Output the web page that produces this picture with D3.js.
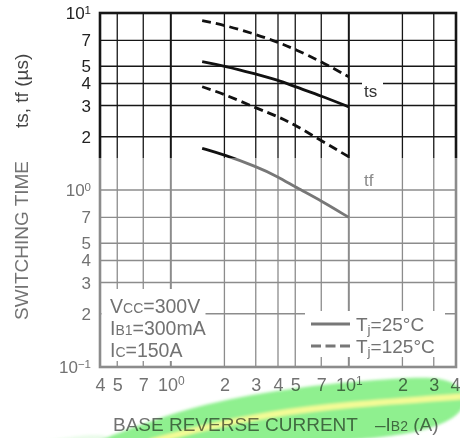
<!DOCTYPE html>
<html><head><meta charset="utf-8">
<script src="https://cdn.jsdelivr.net/npm/d3@7"></script>
<style>body{margin:0;background:#fff}svg{display:block}text{font-family:"Liberation Sans",Arial,sans-serif}</style>
</head><body><svg id="c" width="460" height="438"></svg>
<script>
// ---- data ----
const xTicks = [0.4, 0.5, 0.7, 1, 2, 3, 4, 5, 7, 10, 20, 30, 40];
const xTickLabels = ["4", "5", "7", "10^0", "2", "3", "4", "5", "7", "10^1", "2", "3", "4"];
const yTicks = [0.1, 0.2, 0.3, 0.4, 0.5, 0.7, 1, 2, 3, 4, 5, 7, 10];
const yTickLabels = ["10^−1", "2", "3", "4", "5", "7", "10^0", "2", "3", "4", "5", "7", "10^1"];
const ib2 = [1.5, 2, 3, 4, 5, 7, 10];
const ts25 = [5.31, 5.02, 4.52, 4.18, 3.83, 3.40, 2.95];
const ts125 = [9.05, 8.55, 7.58, 6.83, 6.24, 5.31, 4.36];
const tf25 = [1.72, 1.58, 1.36, 1.19, 1.04, 0.87, 0.70];
const tf125 = [3.83, 3.48, 2.91, 2.60, 2.33, 1.90, 1.54];

const svg = d3.select("#c");
const L = 100, R = 456, T = 13, B = 367, SPLIT = 158;
const x = d3.scaleLog().domain([0.4, 40]).range([L, R]);
const y = d3.scaleLog().domain([0.1, 10]).range([B, T]);

const DARK = "#161616", GRAYL = "#8c8c8c", GRAYT = "#727272";
const defs = svg.append("defs");
function tone(id, top, bot) {
  const g = defs.append("linearGradient").attr("id", id).attr("gradientUnits", "userSpaceOnUse")
    .attr("x1", 0).attr("y1", 0).attr("x2", 0).attr("y2", 438);
  const o = SPLIT / 438;
  g.append("stop").attr("offset", 0).attr("stop-color", top);
  g.append("stop").attr("offset", o).attr("stop-color", top);
  g.append("stop").attr("offset", o).attr("stop-color", bot);
  g.append("stop").attr("offset", 1).attr("stop-color", bot);
}
tone("gLine", DARK, GRAYL);
tone("gCurve", "#111", "#777");
const blur = defs.append("filter").attr("id", "soft").attr("x", "-10%").attr("y", "-50%").attr("width", "120%").attr("height", "200%");
blur.append("feGaussianBlur").attr("stdDeviation", 1.4);

// ---- grid ----
const grid = svg.append("g");
grid.selectAll("line.v").data(xTicks.slice(1, -1)).join("line")
  .attr("x1", d => x(d)).attr("x2", d => x(d)).attr("y1", T).attr("y2", B)
  .attr("stroke", "url(#gLine)").attr("stroke-width", d => (d === 1 || d === 10) ? 2 : 1.3);
grid.selectAll("line.h").data(yTicks.slice(1, -1)).join("line")
  .attr("x1", L).attr("x2", R).attr("y1", d => y(d)).attr("y2", d => y(d))
  .attr("stroke", d => y(d) < SPLIT ? DARK : GRAYL).attr("stroke-width", 1.4);

// ---- white label boxes ----
svg.append("rect").attr("x", 101.5).attr("y", 289).attr("width", 104).attr("height", 72).attr("fill", "#fff");
svg.append("rect").attr("x", 305).attr("y", 311).attr("width", 140).attr("height", 46).attr("fill", "#fff");
svg.append("rect").attr("x", 362).attr("y", 79).attr("width", 21).attr("height", 22).attr("fill", "#fff");

// ---- frame ----
svg.append("rect").attr("x", L).attr("y", T).attr("width", R - L).attr("height", B - T)
  .attr("fill", "none").attr("stroke", "url(#gLine)").attr("stroke-width", 2.6);

// ---- curves ----
const line = d3.line().x((d, i) => x(ib2[i])).y(d => y(d)).curve(d3.curveBasis);
const series = [
  { v: ts125, dash: "9,5" }, { v: ts25, dash: null },
  { v: tf125, dash: "9,5" }, { v: tf25, dash: null }
];
svg.append("g").selectAll("path").data(series).join("path")
  .attr("d", d => line(d.v)).attr("fill", "none").attr("stroke", "url(#gCurve)")
  .attr("stroke-width", 2.8).attr("stroke-dasharray", d => d.dash);

// ---- axes labels ----
function richText(t, s, supSize) {
  t.text(null);
  const parts = s.split("^");
  t.append("tspan").text(parts[0]);
  if (parts[1]) t.append("tspan").attr("dy", "-0.45em").attr("font-size", supSize).text(parts[1]);
}
const gx = svg.append("g").attr("transform", `translate(0,${B})`)
  .call(d3.axisBottom(x).tickValues(xTicks).tickSize(0).tickPadding(11).tickFormat((d, i) => xTickLabels[i]));
gx.select(".domain").remove();
gx.selectAll(".tick text").attr("font-size", 18).attr("fill", GRAYT).attr("font-family", null)
  .each(function (d, i) { richText(d3.select(this), xTickLabels[i], 12); });
gx.selectAll(".tick text").filter((d, i) => i === xTicks.length - 1).attr("text-anchor", "end").attr("x", 4);

const gy = svg.append("g").attr("transform", `translate(${L},0)`)
  .call(d3.axisLeft(y).tickValues(yTicks).tickSize(0).tickPadding(9).tickFormat((d, i) => yTickLabels[i]));
gy.select(".domain").remove();
gy.selectAll(".tick text").attr("font-size", 17).attr("font-family", null)
  .attr("fill", d => y(d) < SPLIT ? "#222" : GRAYT)
  .each(function (d, i) { richText(d3.select(this), yTickLabels[i], 11.5); });

// ---- curve labels ----
svg.append("text").attr("x", 364).attr("y", 97).attr("font-size", 17).attr("fill", "#333").text("ts");
svg.append("text").attr("x", 364).attr("y", 186).attr("font-size", 17).attr("fill", "#8a8a8a").text("tf");

// ---- conditions ----
const cond = svg.append("g").attr("font-size", 19.5).attr("fill", GRAYT);
function condLine(yy, a, sub, rest) {
  const t = cond.append("text").attr("x", 110).attr("y", yy);
  t.append("tspan").text(a);
  t.append("tspan").attr("font-size", 14).text(sub);
  t.append("tspan").text(rest);
}
condLine(313, "V", "CC", "=300V");
condLine(335, "I", "B1", "=300mA");
condLine(357, "I", "C", "=150A");

// ---- legend ----
const leg = svg.append("g");
leg.append("line").attr("x1", 311).attr("x2", 350).attr("y1", 324).attr("y2", 324).attr("stroke", "#777").attr("stroke-width", 3);
leg.append("line").attr("x1", 311).attr("x2", 350).attr("y1", 346).attr("y2", 346).attr("stroke", "#777").attr("stroke-width", 3).attr("stroke-dasharray", "10,4.5");
function legText(yy, val) {
  const t = leg.append("text").attr("x", 356).attr("y", yy).attr("font-size", 19).attr("fill", GRAYT);
  t.append("tspan").text("T");
  t.append("tspan").attr("font-size", 13.5).attr("dy", 3).text("j");
  t.append("tspan").attr("dy", -3).text(val);
}
legText(331, "=25°C");
legText(353, "=125°C");

// ---- axis titles ----
const xt = svg.append("text").attr("y", 431).attr("font-size", 19).attr("fill", GRAYT);
xt.append("tspan").attr("x", 113).text("BASE REVERSE CURRENT");
xt.append("tspan").attr("x", 375).text("–I");
xt.append("tspan").attr("font-size", 14).text("B2");
xt.append("tspan").text(" (A)");

const yt = svg.append("text").attr("transform", "translate(28,320) rotate(-90)").attr("font-size", 19).attr("fill", GRAYT);
yt.append("tspan").attr("x", 0).text("SWITCHING TIME");
yt.append("tspan").attr("x", 192).attr("fill", "#444").text("ts, tf (µs)");

// ---- highlighter stroke ----
const hl = svg.append("g").style("mix-blend-mode", "multiply").attr("filter", "url(#soft)");
hl.append("path").attr("fill", "#e8fbe8")
  .attr("d", d3.line().curve(d3.curveBasis)([[20, 446], [60, 438], [110, 432], [110, 446]]));
hl.append("path").attr("fill", "#8ff08f")
  .attr("d", d3.line().curve(d3.curveBasis)([[95, 442], [140, 425], [200, 404], [300, 386], [400, 378], [470, 375], [470, 445], [95, 445]]));
hl.append("path").attr("fill", "none").attr("stroke", "#f4fb96").attr("stroke-width", 6)
  .attr("d", d3.line().curve(d3.curveBasis)([[150, 442], [205, 427], [270, 414], [340, 405], [470, 396]]));
</script></body></html>
